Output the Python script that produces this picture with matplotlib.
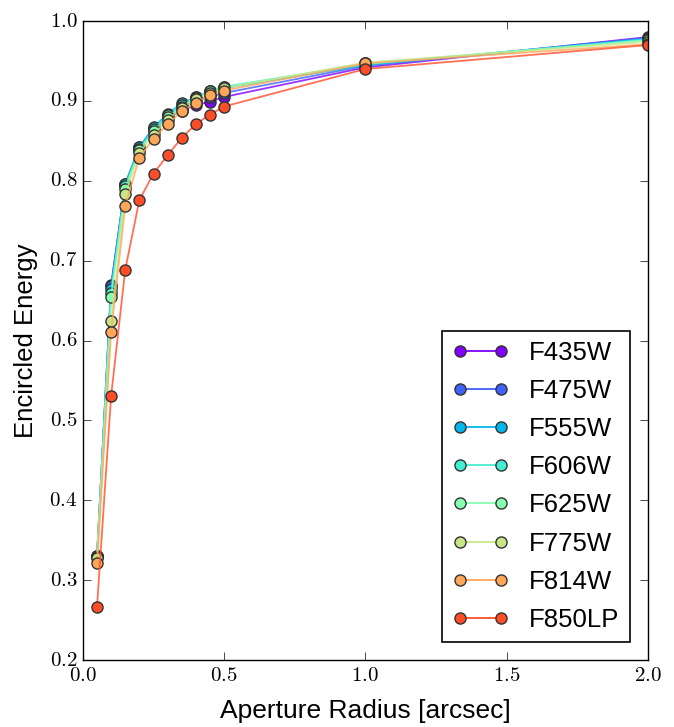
import matplotlib
matplotlib.use("Agg")
import matplotlib.pyplot as plt
import numpy as np
from matplotlib.ticker import FuncFormatter, MultipleLocator

# aperture radii [arcsec]
radius = [0.05, 0.1, 0.15, 0.2, 0.25, 0.3, 0.35, 0.4, 0.45, 0.5, 1.0, 2.0]

filters = ["F435W", "F475W", "F555W", "F606W", "F625W", "F775W", "F814W", "F850LP"]

ee_f435w = [0.330, 0.670, 0.795, 0.840, 0.864, 0.879, 0.888, 0.895, 0.899, 0.905, 0.942, 0.980]
ee_f475w = [0.330, 0.668, 0.796, 0.842, 0.866, 0.882, 0.893, 0.900, 0.905, 0.910, 0.944, 0.979]
ee_f555w = [0.330, 0.665, 0.796, 0.842, 0.867, 0.884, 0.897, 0.905, 0.912, 0.916, 0.945, 0.978]
ee_f606w = [0.330, 0.660, 0.793, 0.840, 0.865, 0.882, 0.895, 0.905, 0.913, 0.918, 0.946, 0.977]
ee_f625w = [0.329, 0.655, 0.790, 0.838, 0.862, 0.880, 0.893, 0.904, 0.912, 0.917, 0.947, 0.976]
ee_f775w = [0.328, 0.624, 0.783, 0.835, 0.858, 0.876, 0.891, 0.902, 0.910, 0.916, 0.948, 0.974]
ee_f814w = [0.321, 0.611, 0.769, 0.829, 0.853, 0.871, 0.887, 0.898, 0.907, 0.913, 0.947, 0.971]
ee_f850lp = [0.267, 0.531, 0.689, 0.776, 0.809, 0.832, 0.854, 0.871, 0.883, 0.893, 0.940, 0.970]

curves = [ee_f435w, ee_f475w, ee_f555w, ee_f606w, ee_f625w, ee_f775w, ee_f814w, ee_f850lp]

plt.style.use("classic")
plt.rcParams["mathtext.fontset"] = "cm"
plt.rcParams["font.family"] = ["Liberation Sans", "DejaVu Sans"]

fig = plt.figure(figsize=(6.74, 7.27), dpi=100, facecolor="white")
ax = fig.add_axes([0.123, 0.092, 0.838, 0.879])

colors = plt.cm.rainbow(np.linspace(0, 0.9, len(filters)))
for name, ee, c in zip(filters, curves, colors):
    ax.plot(radius, ee, "-", color=c, lw=1.3, alpha=0.8)
    ax.plot(radius, ee, "o", markersize=8, markerfacecolor=c,
            markeredgecolor="#333333", markeredgewidth=1.0)

# proxy handles so the legend shows joined marker pairs
handles = []
for name, c in zip(filters, colors):
    h, = ax.plot([], [], "-o", color=c, lw=1.3, markersize=8,
                 markerfacecolor=c, markeredgecolor="#333333",
                 markeredgewidth=1.0, label=name)
    handles.append(h)

ax.set_xlim(0, 2.0)
ax.set_ylim(0.2, 1.0)
ax.xaxis.set_major_locator(MultipleLocator(0.5))
ax.yaxis.set_major_locator(MultipleLocator(0.1))
fmt = FuncFormatter(lambda v, p: r"$%.1f$" % v)
ax.xaxis.set_major_formatter(fmt)
ax.yaxis.set_major_formatter(fmt)
ax.tick_params(labelsize=15, length=6)

ax.set_xlabel("Aperture Radius [arcsec]", fontsize=19, labelpad=10)
ax.set_ylabel("Encircled Energy", fontsize=18.5, labelpad=8)

leg = ax.legend(handles=handles, loc="lower right", numpoints=2, fontsize=18.5,
                frameon=True, borderaxespad=0.7, handlelength=2.2,
                labelspacing=0.55)
leg.get_frame().set_linewidth(1.2)

fig.savefig("out.png", dpi=100, facecolor="white")
